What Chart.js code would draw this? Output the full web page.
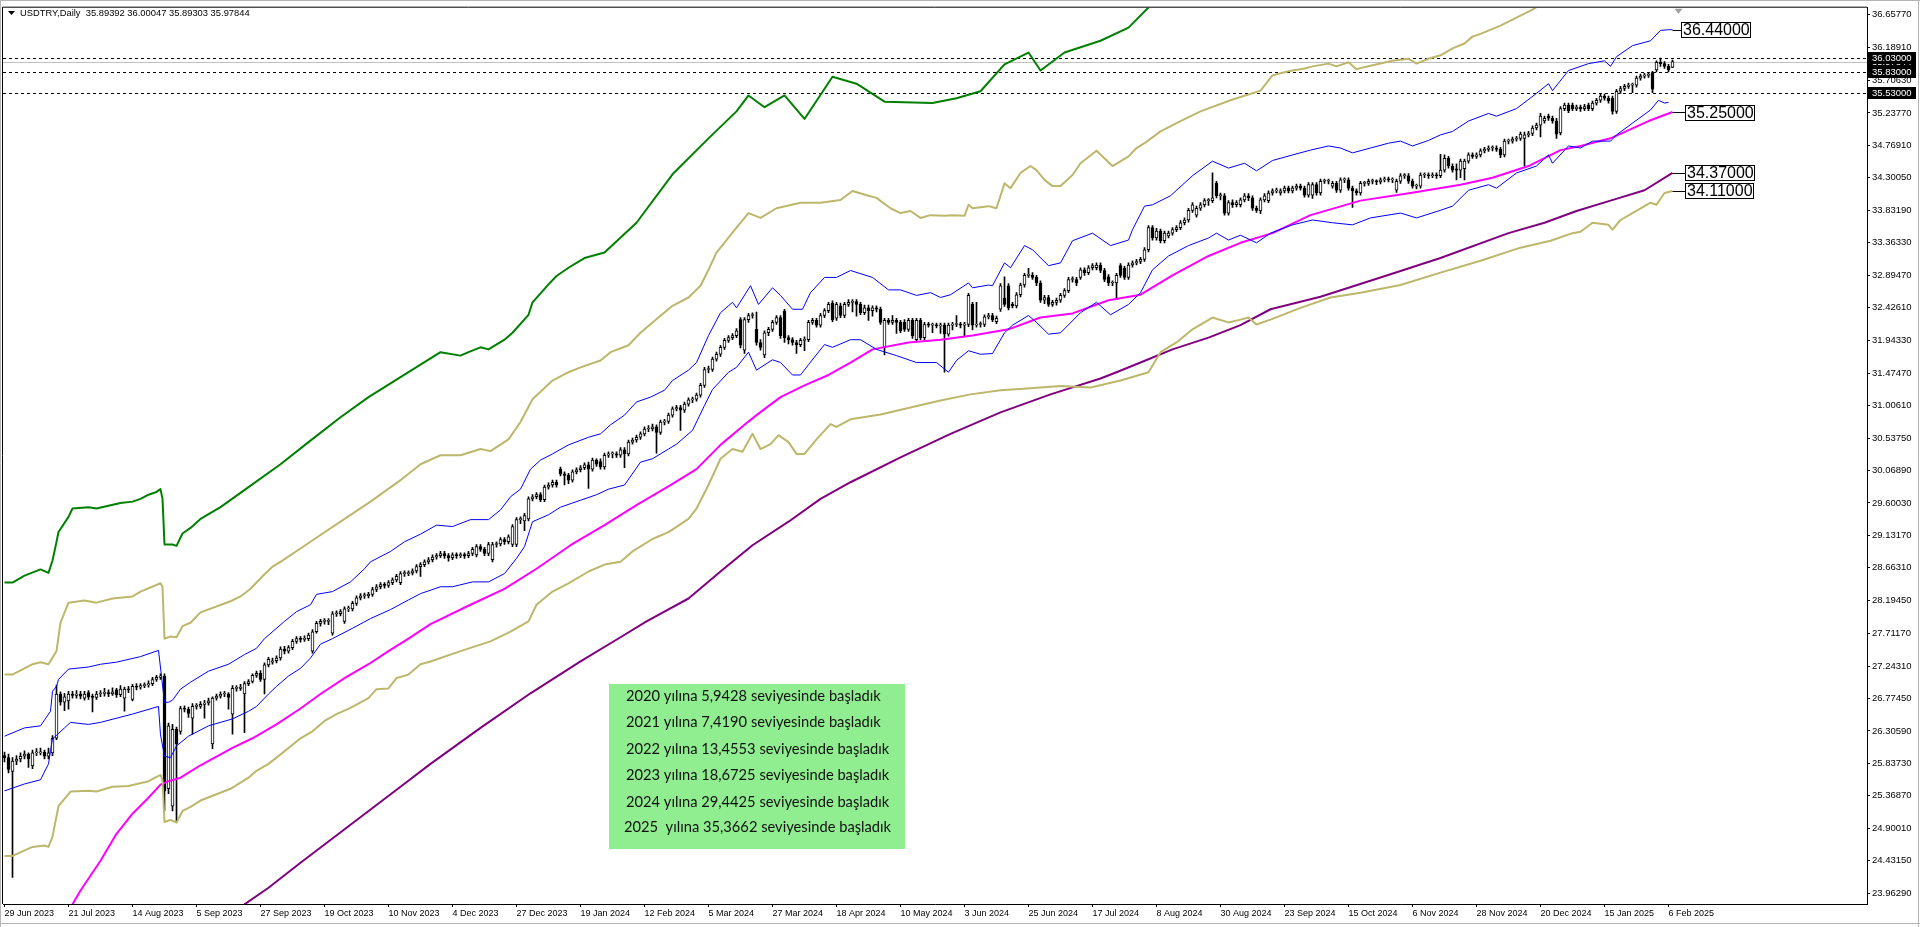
<!DOCTYPE html>
<html><head><meta charset="utf-8">
<script src="https://cdn.jsdelivr.net/npm/chart.js@4.4.1/dist/chart.umd.min.js"></script>
<style>html,body{margin:0;padding:0;background:#fff;overflow:hidden}#wrap{position:absolute;left:0;top:0;width:1920px;height:927px}</style>
</head><body><div id="wrap"><canvas id="c" width="1920" height="927"></canvas></div>
<script>
// ---------------- DATA ----------------
const symbolTitle = 'USDTRY,Daily  35.89392 36.00047 35.89303 35.97844';
const dateLabels = ['29 Jun 2023','21 Jul 2023','14 Aug 2023','5 Sep 2023','27 Sep 2023','19 Oct 2023','10 Nov 2023','4 Dec 2023','27 Dec 2023','19 Jan 2024','12 Feb 2024','5 Mar 2024','27 Mar 2024','18 Apr 2024','10 May 2024','3 Jun 2024','25 Jun 2024','17 Jul 2024','8 Aug 2024','30 Aug 2024','23 Sep 2024','15 Oct 2024','6 Nov 2024','28 Nov 2024','20 Dec 2024','15 Jan 2025','6 Feb 2025'];
const barsPerDateLabel = 16;
const priceTicks = [36.6577,36.1891,35.7063,35.2377,34.7691,34.3005,33.8319,33.3633,32.8947,32.4261,31.9433,31.4747,31.0061,30.5375,30.0689,29.6003,29.1317,28.6631,28.1945,27.7117,27.2431,26.7745,26.3059,25.8373,25.3687,24.9001,24.4315,23.9629];

const opens = [25.95,25.92,25.72,25.87,25.90,25.94,25.97,25.80,25.99,25.99,
26.00,25.94,25.99,26.20,26.84,26.72,26.74,26.84,26.82,26.84,
26.78,26.86,26.80,26.79,26.84,26.85,26.86,26.84,26.90,26.83,
26.78,26.91,26.76,26.95,26.94,26.96,26.97,26.99,27.05,27.08,
27.10,25.47,25.22,26.33,26.30,26.63,26.62,26.49,26.66,26.66,
26.69,26.71,26.12,26.78,26.81,26.84,26.84,26.55,26.92,26.92,
26.84,26.99,27.02,27.11,27.14,27.05,27.26,27.30,27.32,27.36,
27.49,27.46,27.51,27.60,27.64,27.63,27.64,27.46,27.74,27.86,
27.89,27.89,27.72,28.00,28.00,27.89,28.07,28.07,28.15,28.23,
28.26,28.26,28.28,28.35,28.39,28.42,28.41,28.45,28.49,28.45,
28.58,28.58,28.59,28.62,28.68,28.71,28.75,28.78,28.82,28.84,
28.87,28.84,28.81,28.85,28.84,28.85,28.84,28.87,28.85,28.97,
28.93,28.87,28.78,29.00,29.01,29.07,29.04,29.00,29.00,29.36,
29.34,29.37,29.66,29.69,29.72,29.65,29.83,29.86,29.90,30.09,
30.02,30.00,29.93,30.05,30.08,30.11,30.15,30.09,30.22,30.20,
30.12,30.29,30.31,30.31,30.29,30.37,30.31,30.48,30.51,30.55,
30.60,30.67,30.67,30.70,30.62,30.77,30.78,30.87,30.96,30.98,
30.94,31.03,31.09,31.10,31.16,31.30,31.53,31.53,31.68,31.75,
31.85,31.95,31.99,32.02,32.25,31.81,32.25,32.31,32.11,31.92,
31.74,32.06,32.11,32.21,32.28,32.37,31.99,31.96,31.92,31.89,
31.95,31.96,32.21,32.24,32.17,32.31,32.38,32.49,32.27,32.45,
32.31,32.47,32.50,32.51,32.47,32.35,32.42,32.38,32.42,32.40,
31.85,32.24,32.21,32.24,32.21,32.21,32.11,32.24,31.96,32.24,
31.99,32.18,32.17,32.17,32.16,32.17,32.04,32.17,32.18,32.18,
32.17,32.18,32.47,32.17,32.18,32.18,32.29,32.31,32.22,32.40,
32.56,32.74,32.47,32.45,32.61,32.75,32.89,32.89,32.86,32.78,
32.53,32.57,32.47,32.50,32.53,32.60,32.67,32.83,32.83,32.86,
32.97,32.93,33.00,33.00,33.04,32.96,32.87,32.78,32.78,33.03,
32.99,32.86,33.04,33.07,33.09,33.12,33.26,33.58,33.43,33.53,
33.39,33.46,33.50,33.55,33.58,33.65,33.69,33.83,33.76,33.86,
33.91,33.97,33.97,34.22,34.04,34.04,33.79,33.94,33.91,33.91,
33.98,34.04,34.01,33.86,33.82,33.98,33.97,34.08,34.11,34.08,
34.11,34.15,34.11,34.15,34.18,34.15,34.05,34.05,34.20,34.08,
34.25,34.25,34.18,34.22,34.12,34.27,34.27,34.15,34.11,34.08,
34.22,34.22,34.25,34.25,34.24,34.27,34.28,34.27,34.12,34.25,
34.33,34.33,34.25,34.18,34.18,34.34,34.34,34.33,34.34,34.33,
34.41,34.58,34.47,34.43,34.41,34.43,34.54,34.63,34.61,34.63,
34.69,34.71,34.73,34.73,34.71,34.63,34.83,34.83,34.86,34.87,
34.87,34.92,34.94,35.02,35.06,35.12,35.19,35.16,35.12,34.95,
35.30,35.35,35.35,35.30,35.32,35.30,35.35,35.30,35.38,35.42,
35.48,35.45,35.45,35.26,35.55,35.59,35.62,35.64,35.64,35.74,
35.77,35.78,35.82,35.86,35.97,35.95,35.91,35.89392];

const highs = [26.00,25.97,25.92,25.95,25.99,26.02,25.99,26.03,26.05,26.06,
26.03,26.06,26.24,26.97,26.87,26.85,26.88,26.88,26.89,26.88,
26.88,26.89,26.84,26.88,26.89,26.92,26.90,26.93,26.92,26.96,
26.94,26.95,26.98,26.99,26.99,27.00,27.03,27.08,27.11,27.13,
27.13,26.42,26.40,26.36,26.66,26.67,26.65,26.70,26.70,26.73,
26.75,26.78,26.80,26.84,26.87,26.88,26.86,26.96,26.96,26.98,
27.02,27.05,27.13,27.17,27.18,27.29,27.37,27.36,27.39,27.52,
27.53,27.54,27.63,27.67,27.67,27.68,27.72,27.77,27.89,27.92,
27.93,27.93,28.03,28.04,28.06,28.10,28.11,28.18,28.26,28.29,
28.30,28.31,28.38,28.42,28.45,28.45,28.48,28.52,28.57,28.61,
28.62,28.62,28.65,28.71,28.74,28.78,28.81,28.85,28.87,28.90,
28.90,28.87,28.88,28.88,28.88,28.88,28.90,28.96,29.00,29.00,
28.96,29.03,29.03,29.04,29.10,29.10,29.14,29.29,29.39,29.40,
29.45,29.69,29.72,29.75,29.75,29.86,29.89,29.93,29.93,30.12,
30.05,30.03,30.08,30.11,30.14,30.18,30.19,30.25,30.24,30.24,
30.32,30.34,30.34,30.34,30.40,30.40,30.51,30.54,30.58,30.63,
30.70,30.72,30.74,30.73,30.80,30.81,30.90,30.99,31.01,31.01,
31.06,31.12,31.13,31.19,31.33,31.56,31.58,31.71,31.78,31.88,
31.98,32.02,32.05,32.12,32.28,32.28,32.34,32.35,32.36,31.96,
32.09,32.14,32.24,32.31,32.31,32.40,32.02,31.99,31.95,31.98,
32.00,32.24,32.27,32.27,32.34,32.41,32.50,32.52,32.50,32.49,
32.50,32.54,32.54,32.54,32.50,32.46,32.46,32.45,32.45,32.43,
32.27,32.27,32.31,32.27,32.24,32.25,32.27,32.27,32.27,32.27,
32.21,32.21,32.20,32.20,32.20,32.20,32.20,32.21,32.31,32.21,
32.21,32.63,32.50,32.50,32.22,32.32,32.34,32.34,32.30,32.77,
32.87,32.77,32.50,32.64,32.78,32.92,32.99,32.93,32.89,32.81,
32.60,32.60,32.53,32.56,32.63,32.70,32.86,32.87,32.86,33.00,
33.00,33.03,33.06,33.07,33.07,32.99,32.90,32.81,32.92,33.06,
33.02,33.07,33.10,33.12,33.15,33.29,33.61,33.61,33.57,33.56,
33.53,33.53,33.58,33.61,33.68,33.72,33.86,33.94,33.89,33.94,
34.00,34.00,34.37,34.25,34.08,34.07,33.97,33.98,33.97,34.01,
34.07,34.07,34.04,33.89,34.01,34.07,34.11,34.14,34.15,34.14,
34.18,34.18,34.18,34.21,34.21,34.18,34.23,34.23,34.23,34.28,
34.28,34.28,34.25,34.25,34.30,34.30,34.30,34.18,34.14,34.25,
34.25,34.28,34.28,34.27,34.30,34.31,34.31,34.30,34.28,34.36,
34.36,34.36,34.28,34.21,34.37,34.37,34.37,34.37,34.37,34.64,
34.63,34.61,34.50,34.50,34.57,34.57,34.66,34.66,34.66,34.72,
34.74,34.76,34.76,34.76,34.74,34.86,34.86,34.89,34.90,34.96,
34.96,34.97,35.05,35.09,35.23,35.19,35.22,35.19,35.16,35.33,
35.38,35.38,35.38,35.35,35.35,35.36,35.38,35.41,35.45,35.51,
35.51,35.48,35.48,35.58,35.62,35.65,35.67,35.67,35.77,35.80,
35.81,35.82,35.84,35.99,36.03,35.98,35.94,36.00047];

const lows = [25.86,25.70,24.19,25.82,25.86,25.90,25.78,25.76,25.95,25.96,
25.90,25.90,25.95,26.18,26.68,26.60,26.62,26.78,26.78,26.77,
26.75,26.76,26.58,26.76,26.80,26.81,26.80,26.82,26.79,26.80,
26.59,26.86,26.74,26.90,26.91,26.93,26.94,26.96,27.02,27.05,
25.15,25.40,25.15,25.00,26.26,26.58,26.50,26.26,26.62,26.63,
26.49,26.68,26.05,26.75,26.78,26.80,26.62,26.26,26.88,26.89,
26.28,26.96,27.00,27.08,27.02,26.84,27.23,27.27,27.29,27.33,
27.42,27.43,27.48,27.57,27.59,27.60,27.61,27.43,27.72,27.82,
27.85,27.84,27.69,27.96,27.97,27.86,28.03,28.04,28.12,28.20,
28.22,28.23,28.25,28.32,28.36,28.37,28.38,28.42,28.46,28.42,
28.54,28.55,28.56,28.59,28.54,28.68,28.72,28.75,28.79,28.81,
28.80,28.76,28.78,28.80,28.81,28.80,28.81,28.84,28.82,28.90,
28.84,28.84,28.75,28.96,28.98,29.00,29.01,28.97,28.97,29.30,
29.20,29.34,29.63,29.66,29.62,29.62,29.80,29.83,29.83,29.99,
29.86,29.88,29.90,30.02,30.05,30.08,29.81,30.06,30.13,30.09,
30.09,30.26,30.25,30.26,30.26,30.11,30.28,30.45,30.48,30.52,
30.57,30.63,30.64,30.32,30.59,30.73,30.75,30.84,30.93,30.65,
30.91,31.00,31.05,31.07,31.13,31.27,31.48,31.50,31.65,31.72,
31.82,31.92,31.96,31.99,31.84,31.76,32.21,32.27,31.88,31.81,
31.70,32.02,32.08,32.18,31.98,31.92,31.90,31.88,31.76,31.86,
31.80,31.93,32.18,32.14,32.14,32.28,32.35,32.22,32.24,32.28,
32.28,32.44,32.36,32.30,32.32,32.32,32.24,32.30,32.36,32.18,
31.74,32.18,32.18,32.05,32.06,32.08,32.08,31.98,31.93,31.96,
31.96,32.14,32.06,32.13,32.05,31.49,32.01,32.10,32.15,32.13,
32.00,32.15,32.10,32.14,32.14,32.15,32.26,32.22,32.19,32.37,
32.44,32.39,32.42,32.42,32.58,32.72,32.86,32.83,32.74,32.50,
32.48,32.44,32.44,32.46,32.50,32.57,32.64,32.79,32.74,32.83,
32.89,32.90,32.97,32.97,32.93,32.80,32.74,32.74,32.54,32.86,
32.83,32.83,33.01,33.04,33.06,33.09,33.23,33.40,33.40,33.36,
33.36,33.43,33.47,33.52,33.55,33.62,33.66,33.80,33.73,33.83,
33.88,33.90,33.94,34.01,33.98,33.76,33.76,33.87,33.88,33.88,
33.95,33.97,33.83,33.80,33.78,33.95,33.94,34.05,34.08,34.05,
34.08,34.08,34.08,34.12,34.12,34.02,34.02,34.00,34.05,34.05,
34.22,34.21,34.15,34.09,34.09,34.23,34.12,33.87,34.05,34.05,
34.18,34.19,34.21,34.20,34.21,34.24,34.24,34.23,34.09,34.22,
34.29,34.22,34.15,34.14,34.15,34.30,34.29,34.30,34.29,34.30,
34.38,34.44,34.38,34.27,34.30,34.27,34.51,34.58,34.58,34.60,
34.66,34.68,34.69,34.68,34.59,34.60,34.79,34.80,34.83,34.84,
34.47,34.89,34.91,34.99,34.89,35.09,35.13,35.09,34.87,34.92,
35.27,35.24,35.27,35.27,35.26,35.27,35.27,35.27,35.35,35.39,
35.42,35.38,35.22,35.23,35.52,35.56,35.59,35.53,35.61,35.71,
35.74,35.75,35.53,35.83,35.91,35.88,35.83,35.89303];

const closes = [25.92,25.75,25.87,25.90,25.94,25.97,25.90,25.99,25.99,26.00,
25.94,25.99,26.20,26.84,26.72,26.80,26.84,26.82,26.84,26.81,
26.84,26.80,26.79,26.84,26.85,26.86,26.84,26.87,26.83,26.91,
26.91,26.90,26.95,26.94,26.96,26.97,26.99,27.05,27.08,27.10,
25.44,26.38,26.33,26.12,26.63,26.62,26.56,26.66,26.66,26.69,
26.71,26.74,26.78,26.81,26.84,26.84,26.79,26.92,26.92,26.94,
26.99,27.02,27.11,27.14,27.05,27.26,27.34,27.32,27.36,27.49,
27.46,27.51,27.60,27.64,27.63,27.64,27.69,27.74,27.86,27.89,
27.89,27.89,28.00,28.00,28.03,28.07,28.07,28.15,28.23,28.26,
28.26,28.28,28.35,28.39,28.42,28.41,28.45,28.49,28.54,28.58,
28.58,28.59,28.62,28.68,28.71,28.75,28.78,28.82,28.84,28.87,
28.84,28.81,28.85,28.84,28.85,28.84,28.87,28.93,28.97,28.93,
28.87,29.00,29.00,29.01,29.07,29.04,29.11,29.26,29.36,29.37,
29.42,29.66,29.69,29.72,29.65,29.83,29.86,29.90,29.86,30.02,
30.00,29.93,30.05,30.08,30.11,30.15,30.09,30.22,30.16,30.12,
30.29,30.31,30.31,30.29,30.37,30.31,30.48,30.51,30.55,30.60,
30.67,30.67,30.70,30.62,30.77,30.78,30.87,30.96,30.98,30.94,
31.03,31.09,31.10,31.16,31.30,31.53,31.53,31.68,31.75,31.85,
31.95,31.99,32.02,32.09,31.88,32.25,32.31,32.31,31.92,31.85,
32.06,32.11,32.21,32.28,32.02,31.99,31.96,31.92,31.89,31.95,
31.96,32.21,32.24,32.17,32.31,32.38,32.47,32.25,32.47,32.31,
32.47,32.50,32.51,32.47,32.35,32.42,32.38,32.42,32.40,32.21,
32.24,32.21,32.24,32.21,32.09,32.11,32.24,32.02,32.24,31.99,
32.18,32.17,32.17,32.16,32.17,32.04,32.17,32.18,32.18,32.17,
32.18,32.60,32.17,32.18,32.18,32.29,32.31,32.25,32.27,32.74,
32.47,32.42,32.45,32.61,32.75,32.89,32.89,32.86,32.78,32.53,
32.57,32.47,32.50,32.53,32.60,32.67,32.83,32.83,32.78,32.97,
32.93,33.00,33.03,33.04,32.96,32.83,32.78,32.78,32.89,32.89,
32.86,33.04,33.07,33.09,33.12,33.26,33.58,33.43,33.53,33.39,
33.50,33.50,33.55,33.58,33.65,33.69,33.83,33.91,33.86,33.91,
33.97,33.97,34.01,34.04,34.04,33.79,33.94,33.91,33.94,33.98,
34.04,34.01,33.86,33.83,33.98,34.04,34.08,34.11,34.12,34.11,
34.15,34.11,34.15,34.18,34.15,34.05,34.20,34.20,34.08,34.25,
34.25,34.25,34.22,34.12,34.27,34.27,34.15,34.11,34.08,34.22,
34.22,34.25,34.25,34.24,34.27,34.28,34.27,34.27,34.25,34.33,
34.33,34.25,34.18,34.18,34.34,34.34,34.33,34.34,34.33,34.41,
34.58,34.47,34.41,34.41,34.54,34.54,34.63,34.61,34.63,34.69,
34.71,34.73,34.73,34.71,34.63,34.83,34.83,34.86,34.87,34.93,
34.92,34.94,35.02,35.06,35.19,35.16,35.16,35.12,34.93,35.30,
35.35,35.27,35.30,35.32,35.30,35.33,35.30,35.38,35.42,35.48,
35.45,35.41,35.26,35.55,35.59,35.62,35.64,35.64,35.74,35.77,
35.78,35.79,35.58,35.97,35.95,35.91,35.86,35.97844];

// indicator lines: bar index -> value
const greenBar = [0,2,5,9,11,12,12.75,13.5,16,17,21,23,26,29,32,34,36,38,39,39.5,40,42,43,44.5,46.5,49,54,61,69,76,84,91,99,104,109,114,116,119,121,125,127,131,132,136,138,141,143,145,150,158,167,176,183,186,190,195,200,207,213,220,232,238,244,250,256,259,265,274,281,287,291];
const greenVal = [28.45,28.45,28.55,28.64,28.59,28.77,28.97,29.18,29.40,29.52,29.54,29.52,29.56,29.60,29.62,29.66,29.72,29.76,29.80,29.66,29.00,29.00,28.98,29.16,29.24,29.37,29.54,29.83,30.16,30.48,30.84,31.13,31.42,31.60,31.78,31.73,31.78,31.85,31.82,31.96,32.06,32.32,32.50,32.76,32.88,33.00,33.07,33.14,33.22,33.65,34.35,34.87,35.26,35.49,35.32,35.49,35.15,35.76,35.66,35.40,35.38,35.45,35.55,35.94,36.11,35.85,36.11,36.28,36.47,36.82,37.10];

const oliveUpBar = [0,2,7,9,11,13,14,16,20,23,27,32,34,39,39.5,40,41.5,43,44.5,46.5,49,56.5,59,61.5,65,67,69,76.5,84,91.5,99,104,109,114,119,121.5,126,129,132,137,141,144,149,151.5,156,159,162,167,171,174,176,178,183,186,189,193,199,204,209,212,216,218,221.5,224,226.5,229,231.5,235,237,240,241,242,246,248,250,251.5,254,256.5,258,260,262,264,267,269,273,277,281,283,285,289,294,299,306.5,314,317,321,325,327,331,333,336,338,341.5,347,351,353,356,359,362,365,367,369,374,382,386.5];
const oliveUpVal = [27.12,27.12,27.27,27.30,27.27,27.46,27.87,28.16,28.19,28.16,28.22,28.25,28.32,28.44,28.39,27.64,27.67,27.66,27.82,27.87,28.02,28.18,28.25,28.36,28.57,28.68,28.75,29.04,29.33,29.62,29.93,30.16,30.29,30.29,30.38,30.35,30.52,30.77,31.10,31.37,31.49,31.56,31.66,31.78,31.88,32.06,32.21,32.45,32.57,32.74,32.97,33.22,33.58,33.79,33.72,33.86,33.94,33.94,33.98,34.11,34.04,34.01,33.86,33.79,33.82,33.72,33.76,33.75,33.76,33.75,33.91,33.86,33.89,33.86,34.22,34.15,34.37,34.47,34.41,34.27,34.18,34.18,34.34,34.51,34.69,34.47,34.61,34.73,34.80,34.97,35.12,35.26,35.42,35.56,35.78,35.84,35.88,35.91,35.95,35.91,35.97,35.87,35.92,35.99,36.02,35.95,36.02,36.07,36.17,36.24,36.34,36.38,36.50,36.73,36.89];

const oliveLoBar = [0,2,7,10,11,12,13.5,16.5,21,23,27,31,36,39,39.5,40,41.5,43,44.5,46.5,49,56.5,61,63,66,68,71,74,77,80,83,86.5,91,93,96,98,101,104,106.5,114,121.5,126.5,131,133,137,141,146,150,154,157,162,166,171,173,176,179,182,184.5,187,189,191.5,193.5,196,198,200,203,206.5,208,211.5,219,226.5,234,241.5,249,256.5,264,271.5,279,286,289,293,297,302,306,309,311,313,316.5,324,331.5,339,349,359,369,379,386.5,392,394,397,401,402,404,407,411.5,413,415,417];
const oliveLoVal = [24.50,24.50,24.63,24.65,24.63,24.78,25.22,25.43,25.44,25.43,25.50,25.51,25.58,25.67,25.60,24.99,25.02,24.98,25.15,25.21,25.30,25.47,25.63,25.73,25.83,25.92,26.06,26.20,26.30,26.45,26.55,26.64,26.78,26.91,26.92,27.07,27.12,27.27,27.31,27.46,27.60,27.74,27.89,28.13,28.32,28.44,28.61,28.71,28.75,28.90,29.08,29.18,29.37,29.52,29.86,30.24,30.38,30.34,30.60,30.38,30.45,30.58,30.48,30.31,30.31,30.52,30.74,30.70,30.81,30.88,30.98,31.08,31.17,31.23,31.26,31.29,31.27,31.37,31.49,31.78,31.92,32.11,32.28,32.21,32.25,32.28,32.18,32.25,32.42,32.57,32.64,32.75,32.93,33.10,33.29,33.39,33.50,33.52,33.65,33.62,33.55,33.69,33.79,33.94,33.91,34.08,34.11];

const blueUpBar = [0,5,9,11.5,12,13,13.5,16,21,24,28,34,38.5,40,41,42,44,46.5,51,56,60,63,65,70,73,76.5,78,82,86.5,90,91.5,96.5,100,104,108,112,116.5,121,124,126.5,129,131.5,134,137,141,146,149,151.5,155,158,161.5,165,167,171,173,176,179,182,183,186.5,188.5,192,194,197,199.5,201.5,205,208,211.5,217,221,224,228,231.5,234,236.5,241,242,246,247,250,251.5,255,257,261,264,267,272,276.5,281,282,285,287,291.5,297,302,306,310,313,317,322,326.5,331,334,337,341.5,346,349,352,356,359,362,366,371,373,378,383,386,387,391,396,400,401.5,403,407,411.5,414,416,417];
const blueUpVal = [26.23,26.35,26.38,26.59,26.88,26.95,27.05,27.20,27.23,27.27,27.30,27.38,27.47,26.72,26.72,26.75,26.91,27.01,27.17,27.27,27.41,27.50,27.64,27.89,28.03,28.13,28.28,28.32,28.46,28.65,28.75,28.90,29.04,29.15,29.28,29.26,29.36,29.36,29.50,29.69,29.80,30.09,30.22,30.31,30.44,30.55,30.60,30.73,30.87,31.06,31.13,31.23,31.37,31.52,31.63,32.02,32.35,32.50,32.42,32.74,32.47,32.71,32.60,32.40,32.40,32.64,32.86,32.86,32.96,32.86,32.68,32.68,32.60,32.64,32.57,32.61,32.78,32.71,32.75,32.74,33.07,33.00,33.32,33.26,33.03,33.07,33.39,33.50,33.32,33.40,33.55,33.89,33.91,34.04,34.33,34.54,34.44,34.51,34.40,34.55,34.63,34.70,34.76,34.73,34.66,34.73,34.80,34.83,34.76,34.84,34.92,34.97,35.12,35.23,35.19,35.30,35.52,35.66,35.56,35.85,35.95,35.99,35.91,36.05,36.21,36.28,36.43,36.44,36.44];

const blueLoBar = [0,5,9,11,11.5,12,15,16.5,21,24,32,38.5,39,40,41.5,43,46,51,57,61,63,66,68,71,74,76.5,79,82,87,91.5,96.5,101,104,109,112,117,121,125,128,130,132,136,139,144,148,151,155,159,162,166,168,172,175,177,181,183,186,188,192,194,197,199,201,205,207,211.5,214,218,223,228,233,236,238,241,244,247,250,252,256,258,261,264,269,273,276.5,281,284,287,291,296,301,303,306,309,313,316.5,322,327,332,337,341.5,349,353,359,362,366,371,373,378,383,386,387,391,394,397,401.5,403,407,411.5,413.5,415,416];
const blueLoVal = [25.44,25.54,25.60,25.83,26.02,26.19,26.35,26.43,26.40,26.43,26.55,26.66,26.25,25.94,25.92,26.09,26.23,26.38,26.48,26.59,26.66,26.84,26.95,27.10,27.21,27.36,27.56,27.64,27.79,27.93,28.06,28.20,28.29,28.39,28.39,28.46,28.46,28.58,28.80,28.97,29.33,29.43,29.54,29.64,29.72,29.80,29.86,30.19,30.24,30.38,30.45,30.65,31.01,31.24,31.49,31.56,31.78,31.52,31.67,31.63,31.45,31.45,31.60,31.89,31.85,31.96,31.96,31.82,31.73,31.63,31.63,31.49,31.66,31.80,31.75,31.76,32.06,32.17,32.31,32.21,32.04,32.06,32.35,32.50,32.32,32.47,32.64,32.97,33.17,33.32,33.43,33.50,33.40,33.47,33.36,33.50,33.62,33.69,33.65,33.62,33.72,33.79,33.72,33.83,33.89,34.12,34.20,34.15,34.37,34.47,34.63,34.51,34.76,34.73,34.83,34.83,34.92,35.09,35.28,35.42,35.38,35.39];

const magentaBar = [16.5,17,19,24,28,32,36,39,41,44,49,57,62,68,74,79,85,91,96,101,106.5,116.5,125,133,141.5,150,158,166.5,173,179,185,188,194,200,206,211.5,217,226,234,242,251,259,267,276,284,292,301,309,317,326.5,339,351.5,364,372,381,389,394,401.5,411,417];
const magentaVal = [23.68,23.80,24.00,24.43,24.82,25.11,25.34,25.53,25.58,25.63,25.81,26.06,26.20,26.40,26.63,26.84,27.07,27.27,27.46,27.64,27.85,28.13,28.36,28.65,28.99,29.28,29.57,29.86,30.09,30.44,30.73,30.87,31.13,31.30,31.45,31.63,31.82,31.92,31.96,32.02,32.11,32.28,32.34,32.53,32.61,32.89,33.17,33.36,33.50,33.76,33.97,34.08,34.20,34.30,34.47,34.70,34.76,34.87,35.12,35.25];

const purpleBar = [59,60,66,74,86.5,99,106.5,119,131.5,144,154,160.5,171,179,187,196,204,211.5,224,236.5,249,261.5,274,278,284,292,301,309,316.5,329,344,359,376,385,393,401.5,410,417];
const purpleVal = [23.74,23.80,24.04,24.40,24.95,25.50,25.83,26.35,26.85,27.31,27.66,27.89,28.22,28.61,28.99,29.33,29.66,29.90,30.26,30.60,30.91,31.17,31.40,31.49,31.63,31.82,31.99,32.17,32.40,32.58,32.86,33.14,33.50,33.65,33.82,33.97,34.12,34.37];

const endLabels = [36.44, 35.25, 34.37, 34.11];
const levelLines = [36.03, 35.83, 35.53];
const bidPrice = 35.97844;
const noteLines = ['2020 yılına 5,9428 seviyesinde başladık','2021 yılına 7,4190 seviyesinde başladık','2022 yılına 13,4553 seviyesinde başladık','2023 yılına 18,6725 seviyesinde başladık','2024 yılına 29,4425 seviyesinde başladık','2025  yılına 35,3662 seviyesinde başladık'];

// ---------------- CHART ----------------
const FONT = "'Liberation Sans', Arial, sans-serif";
Chart.defaults.font.family = FONT;
const nBars = Math.min(opens.length, highs.length, lows.length, closes.length);
const lastBar = nBars - 1;
const pts = (b, v) => b.map((x, i) => ({x, y: v[i]}));
const lineDs = (label, b, v, color, w) => ({type: 'line', label, data: pts(b, v), borderColor: color, borderWidth: w, pointRadius: 0, pointHoverRadius: 0, tension: 0, fill: false, order: 0, borderJoinStyle: 'round'});
const wicks = [], bodies = [];
for (let i = 0; i < nBars; i++) {
  wicks.push({x: i, y: [lows[i], highs[i]]});
  bodies.push({x: i, y: [opens[i], closes[i]]});
}

const decor = {
  id: 'decor',
  beforeDraw(chart) {
    const c = chart.ctx; c.save(); c.fillStyle = '#fff'; c.fillRect(0, 0, chart.width, chart.height); c.restore();
  },
  beforeDatasetsDraw(chart) {
    const {ctx: c, chartArea: a, scales: {x, y}} = chart;
    c.save();
    c.beginPath(); c.rect(a.left, a.top, a.right - a.left, a.bottom - a.top); c.clip();
    c.strokeStyle = '#C0C0C0'; c.lineWidth = 1;
    let py = Math.round(y.getPixelForValue(bidPrice)) + 0.5;
    c.beginPath(); c.moveTo(a.left, py); c.lineTo(a.right, py); c.stroke();
    c.strokeStyle = '#000'; c.setLineDash([3, 3]);
    levelLines.forEach(v => {
      const p = Math.round(y.getPixelForValue(v)) + 0.5;
      c.beginPath(); c.moveTo(a.left, p); c.lineTo(a.right, p); c.stroke();
    });
    c.restore();
  },
  afterDatasetsDraw(chart) {
    const {ctx: c, chartArea: a, scales: {x, y}} = chart;
    c.save();
    c.font = '16px ' + FONT; c.textBaseline = 'middle';
    endLabels.forEach((v, k) => {
      const py = y.getPixelForValue(v);
      const x0 = x.getPixelForValue(lastBar);
      const bx = Math.round(x.getPixelForValue(k === 0 ? lastBar + 2 : lastBar + 3));
      const txt = v.toFixed(5);
      const w = Math.ceil(c.measureText(txt).width) + 3;
      const top = Math.round(py - 7.5);
      c.strokeStyle = '#000'; c.lineWidth = 1;
      c.beginPath(); c.moveTo(x0, Math.round(py) + 0.5); c.lineTo(bx, Math.round(py) + 0.5); c.stroke();
      c.fillStyle = '#fff'; c.fillRect(bx, top, w, 15);
      c.strokeRect(bx + 0.5, top + 0.5, w - 1, 15);
      c.fillStyle = '#000'; c.fillText(txt, bx + 2, top + 8.5);
    });
    const sx = x.getPixelForValue(lastBar + 1.5);
    c.fillStyle = '#A0A0A0';
    c.beginPath(); c.moveTo(sx - 4, a.top + 1); c.lineTo(sx + 4, a.top + 1); c.lineTo(sx, a.top + 6); c.closePath(); c.fill();
    c.fillStyle = '#90EE90'; c.fillRect(609, 684, 296, 165);
    c.fillStyle = '#111';
    let fs = 20; c.font = fs + 'px Lato, ' + FONT;
    const w0 = c.measureText(noteLines[0]).width; fs = fs * 255 / w0;
    c.font = fs.toFixed(2) + 'px Lato, ' + FONT; c.textBaseline = 'middle';
    const ys = [696, 722, 749, 775, 802, 827];
    noteLines.forEach((t, i) => c.fillText(t, i === 5 ? 624 : 626, ys[i]));
    c.fillStyle = '#000';
    c.beginPath(); c.moveTo(8, 11); c.lineTo(15, 11); c.lineTo(11.5, 15); c.closePath(); c.fill();
    c.font = '10px ' + FONT;
    const tw = c.measureText(symbolTitle).width;
    const tf = 10 * 230 / tw;
    c.font = tf.toFixed(2) + 'px ' + FONT; c.textBaseline = 'middle';
    c.fillText(symbolTitle, 20, 13);
    c.restore();
  },
  afterDraw(chart) {
    const {ctx: c, chartArea: a, scales: {y}} = chart;
    c.save();
    c.strokeStyle = '#000'; c.lineWidth = 1;
    c.beginPath(); c.moveTo(a.left - 0.5, a.bottom); c.lineTo(a.left - 0.5, a.top - 0.5); c.lineTo(a.right, a.top - 0.5); c.stroke();
    c.strokeStyle = '#B4B4B4';
    c.beginPath(); c.moveTo(0.5, 0); c.lineTo(0.5, chart.height); c.stroke();
    c.beginPath(); c.moveTo(0, 0.5); c.lineTo(chart.width, 0.5); c.stroke();
    c.beginPath(); c.moveTo(0, chart.height - 3.5); c.lineTo(chart.width, chart.height - 3.5); c.stroke();
    c.beginPath(); c.moveTo(chart.width - 1.5, 0); c.lineTo(chart.width - 1.5, chart.height); c.stroke();
    c.font = '9.5px ' + FONT; c.textBaseline = 'middle';
    [bidPrice].concat(levelLines).forEach(v => {
      const py = Math.round(y.getPixelForValue(v));
      c.fillStyle = '#000'; c.fillRect(a.right + 1, py - 6, 48, 12);
      c.fillStyle = '#fff'; c.fillText(v.toFixed(5), a.right + 5, py + 0.5);
    });
    c.restore();
  }
};

new Chart(document.getElementById('c'), {
  type: 'bar',
  data: {
    datasets: [
      lineDs('Envelope outer upper', greenBar, greenVal, '#008000', 2),
      lineDs('Envelope upper', oliveUpBar, oliveUpVal, '#BDB76B', 2),
      lineDs('Envelope lower', oliveLoBar, oliveLoVal, '#BDB76B', 2),
      lineDs('Bands upper', blueUpBar, blueUpVal, '#0000FF', 1),
      lineDs('Bands lower', blueLoBar, blueLoVal, '#0000FF', 1),
      lineDs('MA fast', magentaBar, magentaVal, '#FF00FF', 2),
      lineDs('MA slow', purpleBar, purpleVal, '#800080', 2),
      {type: 'bar', label: 'wicks', data: wicks, backgroundColor: '#000', borderWidth: 0, barThickness: 1, grouped: false, minBarLength: 1, order: 2},
      {type: 'bar', label: 'bodies', data: bodies,
        backgroundColor: ctx => (closes[ctx.dataIndex] >= opens[ctx.dataIndex] ? '#FFFFFF' : '#000000'),
        borderColor: '#000', borderWidth: 1, borderSkipped: false, barThickness: 3, grouped: false, minBarLength: 1, order: 1}
    ]
  },
  options: {
    responsive: false, animation: false, devicePixelRatio: 1,
    layout: {padding: {left: 3, top: 4, right: 0, bottom: 0}},
    plugins: {legend: {display: false}, tooltip: {enabled: false}, title: {display: false}},
    events: [],
    scales: {
      x: {
        type: 'linear', position: 'bottom', offset: false,
        min: -0.375, max: 465.625,
        afterFit: s => { s.height = 23; },
        afterBuildTicks: s => { s.ticks = dateLabels.map((_, i) => ({value: i * barsPerDateLabel})); },
        grid: {display: true, drawOnChartArea: false, drawTicks: true, tickLength: 3, color: '#000', offset: false},
        border: {display: true, color: '#000', width: 1},
        ticks: {autoSkip: false, maxRotation: 0, minRotation: 0, align: 'start', padding: 1, color: '#000', font: {size: 9, family: FONT},
          callback: (v, i) => dateLabels[i]}
      },
      y: {
        type: 'linear', position: 'right',
        min: 23.805, max: 36.758,
        afterFit: s => { s.width = 53; },
        afterBuildTicks: s => { s.ticks = priceTicks.map(v => ({value: v})); },
        grid: {display: true, drawOnChartArea: false, drawTicks: true, tickLength: 3, color: '#000'},
        border: {display: true, color: '#000', width: 1},
        ticks: {padding: 2, color: '#000', font: {size: 9.5, family: FONT}, callback: v => Number(v).toFixed(5)}
      }
    }
  },
  plugins: [decor]
});
</script>
</body></html>
